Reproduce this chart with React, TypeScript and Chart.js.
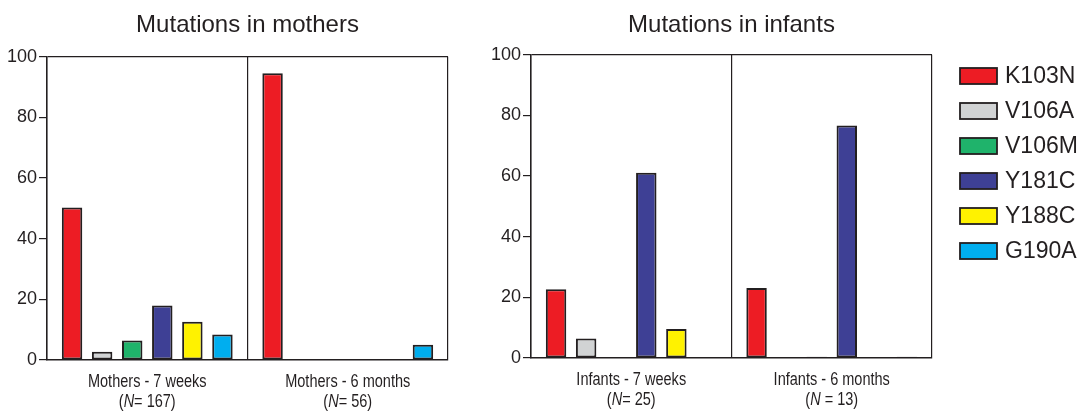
import React, { useEffect, useRef } from 'react';
import { Chart, registerables } from 'chart.js';

Chart.register(...registerables);

// ---- data ----
const mutationNames = ['K103N', 'V106A', 'V106M', 'Y181C', 'Y188C', 'G190A'];
const mutationColors = ['#ED1C24', '#D1D3D4', '#1FB36B', '#3E4095', '#FFF200', '#00AEEF'];

const motherGroups = ['Mothers - 7 weeks', 'Mothers - 6 months'];
const motherN = ['= 167', '= 56'];
const infantGroups = ['Infants - 7 weeks', 'Infants - 6 months'];
const infantN = ['= 25', ' = 13'];

// values per mutation: [7 weeks, 6 months]
const motherK103N = [50.3, 94.6];
const motherV106A = [2.7, 0];
const motherV106M = [6.4, 0];
const motherY181C = [18.0, 0];
const motherY188C = [12.6, 0];
const motherG190A = [8.4, 5.0];

const infantK103N = [22.7, 23.1];
const infantV106A = [6.4, 0];
const infantV106M = [0, 0.4];
const infantY181C = [61.1, 76.7];
const infantY188C = [9.6, 0];
const infantG190A = [0, 0.4];

const yMin = 0;
const yMax = 100;
const yStep = 20;

const motherTitle = 'Mutations in mothers';
const infantTitle = 'Mutations in infants';

// ---- styles ----
const DARK = '#231F20';
const FONT = '"Liberation Sans", Arial, Helvetica, sans-serif';

const groupLabelPlugin = {
  id: 'groupLabels',
  afterDraw(chart: any, _args: any, opts: any) {
    const { ctx, chartArea } = chart;
    const xs = chart.scales.x;
    const sx0 = opts.squeeze;
    (opts.labels || []).forEach((lab: string, i: number) => {
      const x = xs.getPixelForValue(i);
      ctx.save();
      ctx.translate(x, chartArea.bottom);
      ctx.scale(sx0, 1);
      ctx.fillStyle = DARK;
      ctx.textBaseline = 'middle';
      ctx.textAlign = 'center';
      const normal = `${opts.size}px ${FONT}`;
      const italic = `italic ${opts.size}px ${FONT}`;
      ctx.font = normal;
      ctx.fillText(lab, 0, opts.dy1);
      const p1 = '(';
      const p2 = 'N';
      const p3 = opts.n[i] + ')';
      ctx.font = normal;
      const w1 = ctx.measureText(p1).width;
      const w3 = ctx.measureText(p3).width;
      ctx.font = italic;
      const w2 = ctx.measureText(p2).width;
      let sx = -(w1 + w2 + w3) / 2;
      ctx.textAlign = 'left';
      ctx.font = normal;
      ctx.fillText(p1, sx, opts.dy2);
      sx += w1;
      ctx.font = italic;
      ctx.fillText(p2, sx, opts.dy2);
      sx += w2;
      ctx.font = normal;
      ctx.fillText(p3, sx, opts.dy2);
      ctx.restore();
    });
  },
};

const sideLegendPlugin = {
  id: 'sideLegend',
  afterDraw(chart: any, _args: any, opts: any) {
    if (!opts || !opts.display) return;
    const { ctx } = chart;
    chart.data.datasets.forEach((ds: any, i: number) => {
      const y = opts.top + i * opts.spacing;
      ctx.save();
      ctx.fillStyle = ds.backgroundColor;
      ctx.strokeStyle = DARK;
      ctx.lineWidth = 1.8;
      ctx.fillRect(opts.left, y, opts.boxWidth, opts.boxHeight);
      ctx.strokeRect(opts.left, y, opts.boxWidth, opts.boxHeight);
      ctx.fillStyle = DARK;
      ctx.font = `${opts.size}px ${FONT}`;
      ctx.textAlign = 'left';
      ctx.textBaseline = 'middle';
      ctx.fillText(ds.label, opts.left + opts.boxWidth + opts.gap, y + opts.boxHeight / 2 + 1);
      ctx.restore();
    });
  },
};

function makeDatasets(series: number[][]) {
  return series.map((data, i) => ({
    label: mutationNames[i],
    data,
    backgroundColor: mutationColors[i],
    borderColor: DARK,
    borderWidth: 2,
    borderSkipped: false,
    barPercentage: 0.68,
    categoryPercentage: 0.9,
  }));
}

function makeConfig(p: {
  labels: string[];
  n: string[];
  series: number[][];
  title: string;
  yWidth: number;
  xHeight: number;
  padRight: number;
  titlePad: { top: number; bottom: number };
  legend: boolean;
}): any {
  return {
    type: 'bar',
    data: { labels: p.labels, datasets: makeDatasets(p.series) },
    plugins: [groupLabelPlugin, sideLegendPlugin],
    options: {
      responsive: false,
      animation: false,
      devicePixelRatio: 1,
      layout: { padding: { left: 0, right: p.padRight, top: 0, bottom: 0 } },
      plugins: {
        legend: { display: false },
        tooltip: { enabled: false },
        title: {
          display: true,
          text: p.title,
          fullSize: false,
          color: DARK,
          font: { family: FONT, size: 24, weight: 'normal' },
          padding: p.titlePad,
        },
        groupLabels: { labels: p.labels, n: p.n, size: 17.5, squeeze: 0.83, dy1: 22, dy2: 42 },
        sideLegend: {
          display: p.legend,
          left: 470,
          top: 68,
          spacing: 35,
          boxWidth: 37,
          boxHeight: 16,
          gap: 8,
          size: 23,
        },
      },
      scales: {
        x: {
          type: 'category',
          offset: true,
          grid: { offset: true, color: DARK, lineWidth: 1.2, drawTicks: false },
          border: { display: true, color: DARK, width: 1.5 },
          ticks: { display: false },
          afterFit: (scale: any) => {
            scale.height = p.xHeight;
          },
        },
        y: {
          min: yMin,
          max: yMax,
          ticks: {
            stepSize: yStep,
            color: DARK,
            font: { family: FONT, size: 18 },
            padding: 2,
          },
          grid: {
            color: (c: any) => (c.tick && c.tick.value === yMax ? DARK : 'rgba(0,0,0,0)'),
            tickColor: DARK,
            tickLength: 8,
            lineWidth: 1.2,
          },
          border: { display: true, color: DARK, width: 1.5 },
          afterFit: (scale: any) => {
            scale.width = p.yWidth;
          },
        },
      },
    },
  };
}

export default function App() {
  const leftRef = useRef<HTMLCanvasElement | null>(null);
  const rightRef = useRef<HTMLCanvasElement | null>(null);

  useEffect(() => {
    if (!leftRef.current || !rightRef.current) return;
    const left = new Chart(
      leftRef.current,
      makeConfig({
        labels: motherGroups,
        n: motherN,
        series: [motherK103N, motherV106A, motherV106M, motherY181C, motherY188C, motherG190A],
        title: motherTitle,
        yWidth: 47,
        xHeight: 51,
        padRight: 42,
        titlePad: { top: 11, bottom: 17 },
        legend: false,
      })
    );
    const right = new Chart(
      rightRef.current,
      makeConfig({
        labels: infantGroups,
        n: infantN,
        series: [infantK103N, infantV106A, infantV106M, infantY181C, infantY188C, infantG190A],
        title: infantTitle,
        yWidth: 41,
        xHeight: 53,
        padRight: 148,
        titlePad: { top: 11, bottom: 15 },
        legend: true,
      })
    );
    return () => {
      left.destroy();
      right.destroy();
    };
  }, []);

  return (
    <div style={{ position: 'absolute', left: 0, top: 0, width: 1080, height: 411, background: '#fff' }}>
      <canvas ref={leftRef} width={490} height={411} style={{ position: 'absolute', left: 0, top: 0 }} />
      <canvas ref={rightRef} width={590} height={411} style={{ position: 'absolute', left: 490, top: 0 }} />
    </div>
  );
}
